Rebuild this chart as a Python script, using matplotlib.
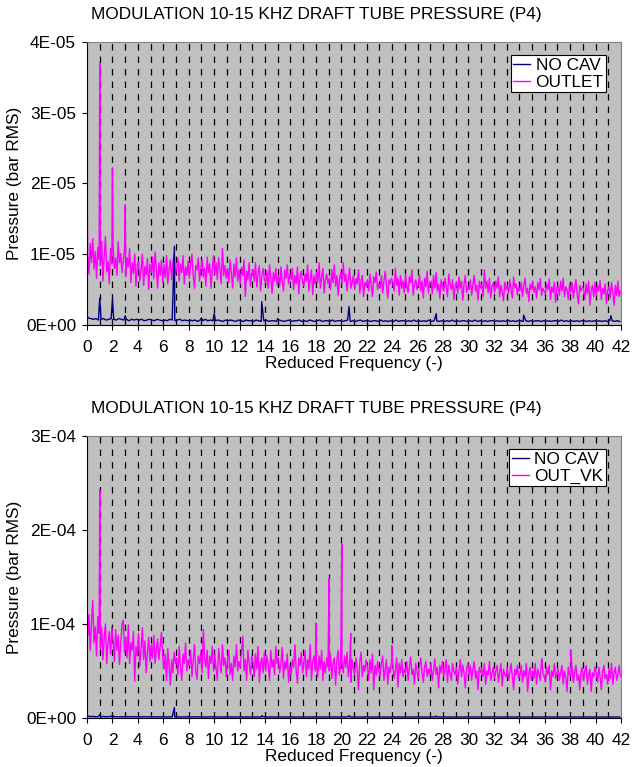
import numpy as np
import matplotlib
matplotlib.use("Agg")
import matplotlib.pyplot as plt
from matplotlib.ticker import MultipleLocator, FuncFormatter

plt.rcParams['font.family'] = ['Liberation Sans', 'DejaVu Sans']
plt.rcParams['lines.scale_dashes'] = False

TITLE = "MODULATION 10-15 KHZ DRAFT TUBE PRESSURE (P4)"
XLABEL = "Reduced Frequency (-)"
YLABEL = "Pressure (bar RMS)"

# noise band read every 0.1 (0.05 .. 41.95), baseline every 0.2 (0.1 .. 41.9)
grid_freq = [round(0.05 + 0.1 * i, 2) for i in range(420)]
base_freq = [round(0.1 + 0.2 * i, 2) for i in range(210)]

# ---- top chart, OUTLET (units of 1E-07 bar), one row per unit of frequency ----
outlet_noise = [
    98, 72, 115, 88, 122, 79, 104, 66, 110, 93,
    84, 118, 62, 97, 125, 75, 90, 58, 108, 86,
    112, 80, 95, 70, 118, 88, 101, 74, 92, 106,
    68, 95, 82, 108, 60, 88, 73, 100, 55, 84,
    90, 62, 78, 100, 56, 83, 71, 94, 50, 86,
    74, 96, 65, 103, 81, 52, 88, 70, 92, 60,
    85, 67, 98, 58, 79, 92, 64, 88, 100, 72,
    80, 95, 62, 86, 74, 98, 58, 82, 70, 90,
    66, 88, 100, 70, 52, 84, 78, 95, 62, 80,
    92, 68, 80, 55, 96, 74, 86, 52, 78, 98,
    72, 88, 64, 95, 80, 58, 108, 70, 84, 66,
    80, 60, 92, 74, 52, 86, 68, 95, 62, 78,
    58, 82, 70, 92, 40, 76, 64, 88, 55, 72,
    78, 62, 88, 54, 72, 84, 48, 70, 80, 64,
    60, 76, 52, 85, 68, 45, 74, 62, 80, 56,
    70, 55, 82, 62, 48, 78, 66, 85, 58, 72,
    64, 80, 50, 70, 58, 82, 44, 68, 76, 60,
    55, 72, 62, 85, 48, 66, 78, 43, 70, 58,
    74, 60, 88, 52, 68, 80, 45, 64, 72, 58,
    66, 50, 78, 60, 85, 55, 70, 42, 64, 74,
    58, 88, 62, 72, 48, 66, 80, 52, 60, 70,
    50, 66, 58, 78, 45, 62, 70, 40, 60, 55,
    64, 48, 72, 56, 40, 68, 60, 75, 50, 58,
    52, 70, 45, 62, 76, 55, 38, 64, 58, 66,
    60, 48, 80, 56, 66, 42, 70, 52, 62, 46,
    72, 55, 46, 68, 60, 78, 42, 58, 64, 50,
    56, 70, 48, 62, 38, 66, 54, 76, 45, 60,
    62, 44, 70, 52, 74, 48, 58, 37, 64, 55,
    48, 66, 55, 40, 72, 58, 50, 64, 36, 56,
    60, 45, 68, 52, 62, 35, 58, 70, 46, 54,
    50, 64, 42, 58, 70, 48, 56, 35, 62, 52,
    58, 40, 78, 52, 62, 46, 66, 38, 55, 60,
    46, 62, 52, 68, 40, 56, 48, 34, 60, 50,
    56, 44, 64, 50, 38, 68, 52, 58, 42, 54,
    48, 60, 40, 56, 66, 45, 52, 33, 58, 50,
    62, 46, 54, 38, 60, 50, 66, 42, 52, 48,
    44, 58, 50, 65, 36, 54, 46, 60, 32, 52,
    56, 42, 62, 48, 66, 40, 54, 50, 36, 58,
    46, 60, 38, 52, 64, 44, 30, 56, 48, 54,
    52, 36, 58, 44, 62, 28, 50, 56, 40, 60,
    42, 56, 48, 63, 36, 52, 44, 58, 30, 50,
    54, 38, 60, 46, 28, 56, 42, 62, 40, 48,
]
outlet_spike_freq = [0.0, 0.02, 1.0, 2.0, 3.0]
outlet_spike_vals = [0, 170, 370, 222, 170]

# ---- top chart, NO CAV (units of 1E-07 bar) ----
nocav1_base = [
    10, 9, 8, 9, 7, 8, 9, 7, 8, 9,
    8, 7, 9, 8, 7, 8, 6, 8, 7, 8,
    7, 8, 6, 7, 8, 7, 6, 8, 7, 6,
    7, 6, 8, 7, 6, 7, 8, 6, 7, 6,
    7, 6, 7, 5, 7, 6, 8, 6, 7, 6,
    6, 7, 6, 5, 7, 6, 7, 6, 5, 7,
    6, 5, 7, 6, 6, 5, 7, 6, 5, 6,
    7, 5, 6, 6, 5, 7, 6, 5, 6, 7,
    5, 6, 6, 7, 5, 6, 5, 7, 6, 5,
    6, 7, 5, 6, 6, 5, 7, 5, 6, 6,
    5, 6, 7, 5, 6, 5, 6, 7, 5, 6,
    6, 5, 6, 6, 5, 7, 5, 6, 5, 6,
    5, 7, 5, 6, 6, 5, 6, 5, 7, 5,
    6, 5, 6, 5, 7, 5, 6, 6, 5, 6,
    5, 6, 5, 7, 5, 6, 5, 6, 6, 5,
    6, 5, 7, 5, 6, 5, 6, 5, 6, 6,
    5, 6, 5, 6, 5, 7, 5, 6, 5, 6,
    6, 5, 6, 5, 6, 5, 6, 6, 5, 6,
    5, 6, 5, 6, 6, 5, 7, 5, 6, 5,
    6, 5, 6, 5, 6, 6, 5, 6, 5, 6,
    5, 6, 5, 6, 5, 6, 6, 5, 6, 5,
]
nocav1_spike_freq = [0.0, 0.02, 1.0, 2.0, 3.0, 6.87, 9.0, 10.0, 13.74, 15.0, 20.6, 27.47, 34.34, 41.2]
nocav1_spike_vals = [0, 12, 38, 37, 13, 111, 10, 16, 33, 9, 26, 16, 14, 13]

# ---- bottom chart, OUT_VK (units of 1E-06 bar) ----
outvk_noise = [
    88, 110, 72, 102, 125, 80, 97, 66, 108, 90,
    74, 96, 62, 85, 100, 58, 80, 92, 68, 97,
    82, 60, 94, 72, 88, 57, 78, 100, 104, 70,
    86, 64, 99, 58, 80, 72, 92, 39, 76, 66,
    90, 55, 74, 96, 62, 82, 48, 70, 86, 60,
    78, 64, 88, 58, 72, 84, 62, 76, 91, 66,
    52, 68, 40, 74, 56, 35, 62, 48, 70, 58,
    64, 46, 76, 54, 40, 68, 58, 80, 50, 62,
    56, 72, 44, 62, 78, 50, 41, 66, 58, 70,
    48, 94, 62, 54, 72, 42, 66, 58, 76, 50,
    68, 52, 40, 74, 60, 48, 78, 56, 64, 44,
    62, 72, 46, 58, 40, 66, 54, 78, 50, 60,
    54, 70, 87, 50, 62, 40, 72, 58, 46, 66,
    60, 44, 68, 52, 76, 38, 58, 64, 48, 70,
    50, 66, 56, 40, 72, 54, 62, 46, 76, 58,
    64, 48, 58, 75, 42, 60, 52, 68, 38, 56,
    46, 62, 54, 78, 50, 37, 64, 56, 70, 48,
    58, 72, 44, 62, 52, 78, 40, 60, 66, 50,
    56, 44, 66, 52, 72, 40, 60, 48, 64, 54,
    50, 68, 42, 58, 64, 35, 62, 72, 46, 56,
    60, 48, 66, 54, 70, 44, 58, 38, 62, 52,
    46, 64, 52, 30, 60, 70, 44, 56, 50, 62,
    54, 40, 62, 48, 68, 30, 56, 46, 60, 50,
    44, 58, 66, 40, 52, 62, 36, 54, 48, 60,
    56, 42, 50, 64, 33, 58, 48, 62, 44, 52,
    48, 60, 40, 54, 65, 46, 52, 36, 58, 50,
    42, 56, 64, 48, 38, 54, 60, 44, 52, 46,
    58, 40, 50, 63, 46, 54, 32, 56, 48, 60,
    44, 52, 62, 38, 56, 48, 40, 58, 50, 46,
    54, 36, 50, 62, 44, 56, 48, 32, 52, 58,
    46, 56, 40, 52, 60, 42, 50, 30, 54, 48,
    52, 44, 58, 36, 50, 46, 60, 40, 48, 54,
    42, 50, 56, 38, 48, 58, 34, 52, 46, 44,
    54, 40, 48, 58, 44, 30, 52, 46, 56, 42,
    46, 56, 38, 50, 44, 58, 28, 48, 54, 40,
    50, 42, 58, 36, 52, 46, 40, 62, 48, 44,
    38, 54, 46, 56, 30, 50, 44, 58, 42, 48,
    52, 40, 48, 56, 36, 50, 44, 28, 54, 46,
    44, 52, 38, 48, 56, 40, 46, 30, 50, 54,
    40, 50, 56, 36, 46, 52, 28, 48, 44, 54,
    48, 38, 54, 44, 30, 50, 56, 42, 46, 36,
    52, 42, 58, 36, 48, 54, 40, 46, 56, 44,
]
outvk_spike_freq = [0.0, 0.02, 1.0, 18.0, 19.04, 20.04, 20.74, 23.97, 35.77, 38.06]
outvk_spike_vals = [0, 95, 243, 101, 149, 185, 90, 77, 63, 72]

# ---- bottom chart, NO CAV (units of 1E-06 bar) ----
nocav2_base = [
    1.8, 1.5, 1.6, 1.3, 1.5, 1.4, 1.6, 1.3, 1.4, 1.5,
    1.3, 1.4, 1.2, 1.4, 1.3, 1.5, 1.2, 1.3, 1.4, 1.2,
    1.3, 1.2, 1.4, 1.1, 1.3, 1.2, 1.3, 1.1, 1.2, 1.3,
    1.2, 1.1, 1.3, 1.2, 1.1, 1.3, 1.2, 1.1, 1.2, 1.3,
    1.1, 1.2, 1.1, 1.3, 1.2, 1.1, 1.2, 1.1, 1.3, 1.2,
    1.1, 1.2, 1.0, 1.2, 1.1, 1.3, 1.1, 1.0, 1.2, 1.1,
    1.2, 1.0, 1.1, 1.2, 1.1, 1.0, 1.2, 1.1, 1.0, 1.2,
    1.1, 1.0, 1.2, 1.1, 1.0, 1.1, 1.2, 1.0, 1.1, 1.0,
    1.2, 1.1, 1.0, 1.1, 1.2, 1.0, 1.1, 1.0, 1.2, 1.1,
    1.0, 1.1, 1.2, 1.0, 1.1, 1.0, 1.1, 1.2, 1.0, 1.1,
    1.1, 1.0, 1.1, 1.2, 1.0, 1.1, 1.0, 1.1, 1.0, 1.2,
    1.0, 1.1, 1.0, 1.1, 1.2, 1.0, 1.1, 1.0, 1.1, 1.0,
    1.1, 1.0, 1.2, 1.0, 1.1, 1.0, 1.1, 1.1, 1.0, 1.1,
    1.0, 1.1, 1.0, 1.1, 1.0, 1.2, 1.0, 1.1, 1.0, 1.1,
    1.1, 1.0, 1.1, 1.0, 1.1, 1.0, 1.1, 1.0, 1.2, 1.0,
    1.0, 1.1, 1.0, 1.2, 1.0, 1.1, 1.0, 1.1, 1.0, 1.1,
    1.1, 1.0, 1.1, 1.0, 1.1, 1.0, 1.2, 1.0, 1.1, 1.0,
    1.0, 1.1, 1.0, 1.1, 1.0, 1.1, 1.0, 1.1, 1.1, 1.0,
    1.1, 1.0, 1.1, 1.0, 1.2, 1.0, 1.1, 1.0, 1.0, 1.1,
    1.0, 1.1, 1.0, 1.1, 1.0, 1.1, 1.0, 1.2, 1.0, 1.1,
    1.1, 1.0, 1.1, 1.0, 1.1, 1.0, 1.1, 1.0, 1.1, 1.0,
]
nocav2_spike_freq = [0.0, 0.02, 1.0, 2.0, 6.87, 13.74, 20.6, 27.47]
nocav2_spike_vals = [0, 3, 3.5, 3, 11, 2.5, 2.5, 2]


def merge(f1, v1, f2, v2, scale):
    df = np.array(list(f1) + list(f2), dtype=float)
    dv = np.array(list(v1) + list(v2), dtype=float)
    order = np.argsort(df, kind="stable")
    return df[order], dv[order] * scale


def draw_panel(ax, ymax, ystep, cav_label, cav_f, cav_v, nc_f, nc_v):
    ax.set_facecolor("#C0C0C0")
    for xv in range(1, 42):
        ax.axvline(xv, color="black", lw=0.9, linestyle=(0, (4.6, 4.4)), zorder=1)
    ax.plot(nc_f, nc_v, color="#000080", lw=1.0, label="NO CAV", zorder=3)
    ax.plot(cav_f, cav_v, color="#FF00FF", lw=1.0, label=cav_label, zorder=2)
    ax.set_xlim(0, 42)
    ax.set_ylim(0, ymax)
    ax.xaxis.set_major_locator(MultipleLocator(2))
    ax.yaxis.set_major_locator(MultipleLocator(ystep))
    ax.yaxis.set_major_formatter(FuncFormatter(lambda v, p: f"{v:.0E}"))
    ax.tick_params(direction="out", length=3.6, width=0.8, labelsize=12.4)
    ax.tick_params(axis="y", pad=4.3)
    ax.tick_params(axis="x", pad=7)
    for s in ("top", "right"):
        ax.spines[s].set_color("#808080")
    for s in ("left", "bottom"):
        ax.spines[s].set_color("black")
    ax.set_xlabel(XLABEL, fontsize=12.4)
    ax.set_ylabel(YLABEL, fontsize=12.4)
    ax.xaxis.set_label_coords(0.5, -0.11)
    ax.yaxis.set_label_coords(-0.122, 0.5)
    leg = ax.legend(loc="upper right", bbox_to_anchor=(0.972, 0.954), fontsize=12.4,
                    frameon=True, fancybox=False, framealpha=1, edgecolor="black",
                    handlelength=1.0, handletextpad=0.3, borderpad=0.15,
                    labelspacing=0.12, borderaxespad=0)
    leg.get_frame().set_linewidth(0.8)


fig = plt.figure(figsize=(6.32, 7.67), dpi=100)
ax1 = fig.add_axes([0.1377, 0.5763, 0.845, 0.369])
ax2 = fig.add_axes([0.1377, 0.0639, 0.845, 0.3677])

f, v = merge(grid_freq, outlet_noise, outlet_spike_freq, outlet_spike_vals, 1e-7)
nf, nv = merge(base_freq, nocav1_base, nocav1_spike_freq, nocav1_spike_vals, 1e-7)
draw_panel(ax1, 4e-5, 1e-5, "OUTLET", f, v, nf, nv)

f, v = merge(grid_freq, outvk_noise, outvk_spike_freq, outvk_spike_vals, 1e-6)
nf, nv = merge(base_freq, nocav2_base, nocav2_spike_freq, nocav2_spike_vals, 1e-6)
draw_panel(ax2, 3e-4, 1e-4, "OUT_VK", f, v, nf, nv)

fig.text(0.5, 1 - 14 / 767, TITLE, fontsize=12.4, ha="center", va="center")
fig.text(0.5, 1 - 408 / 767, TITLE, fontsize=12.4, ha="center", va="center")

fig.savefig("out.png", dpi=100)
